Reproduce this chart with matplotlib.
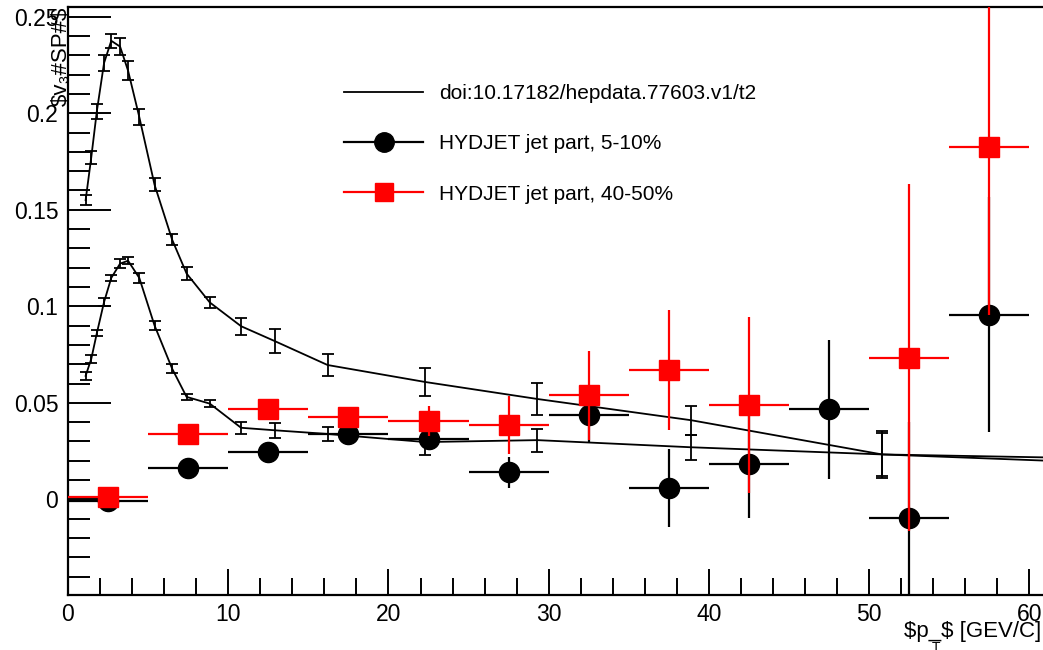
import numpy as np
import matplotlib
matplotlib.use("Agg")
import matplotlib.pyplot as plt
from matplotlib.lines import Line2D
from matplotlib.ticker import MultipleLocator, FuncFormatter

plt.rcParams['font.family'] = ['Liberation Sans', 'DejaVu Sans']

# hepdata reference curves (two centralities, same pT grid)
ref_pt = [1.1, 1.45, 1.8, 2.25, 2.7, 3.25, 3.75, 4.45, 5.4, 6.5, 7.4, 8.85,
          10.8, 12.9, 16.2, 22.3, 29.3, 38.9, 50.8, 66.0]
ref_hi = [0.155, 0.177, 0.201, 0.226, 0.2375, 0.2345, 0.222, 0.198, 0.163, 0.1345,
          0.117, 0.102, 0.0897, 0.082, 0.0696, 0.0608, 0.052, 0.041, 0.0233, 0.0185]
ref_hi_err = [0.0026, 0.0035, 0.0039, 0.0043, 0.0036, 0.0043, 0.0048, 0.004, 0.0033, 0.003,
              0.0035, 0.003, 0.0043, 0.006, 0.0055, 0.0074, 0.0082, 0.0075, 0.012, 0.012]
ref_lo = [0.064, 0.0727, 0.0861, 0.1022, 0.1147, 0.1221, 0.1236, 0.1147, 0.0901, 0.0677,
          0.0531, 0.0496, 0.0371, 0.0358, 0.0339, 0.0297, 0.0307, 0.027, 0.0233, 0.021]
ref_lo_err = [0.002, 0.0022, 0.0017, 0.0022, 0.0017, 0.0022, 0.0019, 0.0026, 0.0022, 0.0022,
              0.0017, 0.0017, 0.0032, 0.004, 0.0035, 0.0069, 0.006, 0.0065, 0.011, 0.011]

# HYDJET jet part, 5 GeV wide bins
bin_pt = [2.5, 7.5, 12.5, 17.5, 22.5, 27.5, 32.5, 37.5, 42.5, 47.5, 52.5, 57.5]
bin_halfwidth = 2.5
v3_central = [-0.001, 0.0161, 0.0248, 0.034, 0.0314, 0.0141, 0.0436, 0.0059, 0.0184, 0.0467, -0.0097, 0.0957]
v3_central_err = [0.002, 0.003, 0.003, 0.003, 0.005, 0.008, 0.014, 0.02, 0.028, 0.036, 0.05, 0.061]
v3_periph = [0.001, 0.034, 0.047, 0.0427, 0.0406, 0.0387, 0.054, 0.067, 0.0491, np.nan, 0.0734, 0.1824]
v3_periph_err = [0.002, 0.002, 0.003, 0.003, 0.008, 0.015, 0.023, 0.031, 0.0456, np.nan, 0.09, 0.087]

fig = plt.figure(figsize=(10.43, 6.5), dpi=100)
ax = fig.add_axes([68 / 1043, 55 / 650, 1 - 68 / 1043, 588 / 650])

for vals, errs in ((ref_hi, ref_hi_err), (ref_lo, ref_lo_err)):
    ax.errorbar(ref_pt, vals, yerr=errs, color='black', lw=1.3, elinewidth=1.3,
                capsize=4, capthick=1.3, zorder=2)

ax.errorbar(bin_pt, v3_central, xerr=bin_halfwidth, yerr=v3_central_err, fmt='o',
            color='black', ms=14.5, elinewidth=1.6, capsize=0, zorder=3)
ax.errorbar(bin_pt, v3_periph, xerr=bin_halfwidth, yerr=v3_periph_err, fmt='s',
            color='red', ms=14, elinewidth=1.6, capsize=0, zorder=4)

ax.set_xlim(0, 60.85)
ax.set_ylim(-0.0495, 0.255)

ax.xaxis.set_major_locator(MultipleLocator(10))
ax.xaxis.set_minor_locator(MultipleLocator(2))
ax.yaxis.set_major_locator(MultipleLocator(0.05))
ax.yaxis.set_minor_locator(MultipleLocator(0.01))
ax.yaxis.set_major_formatter(FuncFormatter(lambda v, _: '0' if abs(v) < 1e-9 else ('%g' % round(v, 3))))
ax.tick_params(axis='both', which='both', direction='in', width=1.4, labelsize=16.5, colors='black')
ax.tick_params(axis='y', which='major', length=31, pad=7)
ax.tick_params(axis='y', which='minor', length=16)
ax.tick_params(axis='x', which='major', length=19, pad=6)
ax.tick_params(axis='x', which='minor', length=12)
for side in ('left', 'bottom', 'top'):
    ax.spines[side].set_linewidth(1.6)
ax.spines['right'].set_visible(False)

handles = [
    Line2D([], [], color='black', lw=1.3),
    Line2D([], [], color='black', lw=1.6, marker='o', ms=14),
    Line2D([], [], color='red', lw=1.6, marker='s', ms=13),
]
labels = ['doi:10.17182/hepdata.77603.v1/t2',
          'HYDJET jet part, 5-10%',
          'HYDJET jet part, 40-50%']
fig.legend(handles, labels, loc='upper left', bbox_to_anchor=(344 / 1043, 1 - 84 / 650),
           frameon=False, fontsize=15, handlelength=3.8, handletextpad=0.75,
           labelspacing=1.5, borderpad=0, borderaxespad=0)

fig.text(1041 / 1043, 1 - 632 / 650, r'\$p_\$ [GEV/C]', ha='right', va='center', fontsize=16)
fig.text(936 / 1043, 1 - 648 / 650, 'T', ha='center', va='center', fontsize=10)
fig.text(61 / 1043, 1 - 7 / 650, '\\$v\u2083#SP#\\$', rotation=90, ha='center', va='top',
         fontsize=16)

fig.savefig('out.png', dpi=100)
